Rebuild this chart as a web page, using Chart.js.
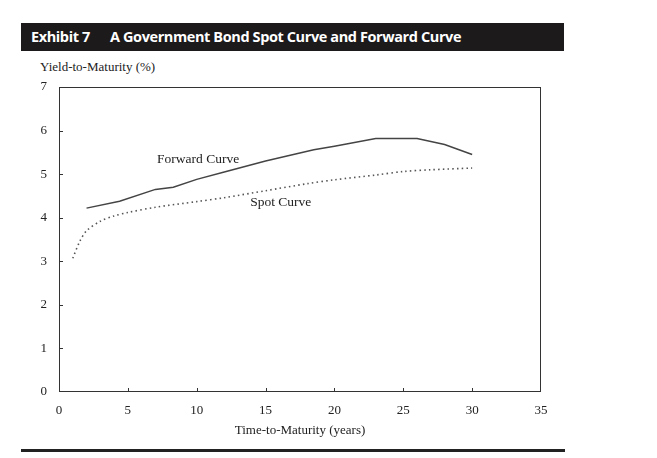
<!DOCTYPE html>
<html>
<head>
<meta charset="utf-8">
<script src="https://cdn.jsdelivr.net/npm/chart.js@4"></script>
<style>
  html, body { margin:0; padding:0; background:#fff; }
  #wrap { position:relative; width:657px; height:458px; overflow:hidden; }
  #bar { position:absolute; left:21px; top:23px; width:543px; height:28px; background:#1c1a1b; color:#fff;
         font-family:"Open Sans","Noto Sans",sans-serif; font-weight:700; font-size:14.5px; line-height:28px; letter-spacing:-0.4px; }
  #bar .ex { position:absolute; left:10px; }
  #bar .tt { position:absolute; left:89px; }
  #ylab { position:absolute; left:40px; top:59px; font-family:"Liberation Serif",serif; font-size:13px; color:#222; }
  #rule { position:absolute; left:21px; top:449px; width:544px; height:3px; background:#222; }
  canvas { position:absolute; left:0; top:0; }
</style>
</head>
<body>
<div id="wrap">
  <div id="bar"><span class="ex">Exhibit 7</span><span class="tt">A Government Bond Spot Curve and Forward Curve</span></div>
  <div id="ylab">Yield-to-Maturity (%)</div>
  <canvas id="c" width="657" height="458"></canvas>
  <div id="rule"></div>
</div>
<script>
const forwardX = [2, 4.4, 7, 8.3, 10, 12, 15, 18.5, 20, 23, 26, 28, 30];
const forwardY = [4.22, 4.38, 4.65, 4.70, 4.88, 5.05, 5.30, 5.56, 5.64, 5.82, 5.82, 5.68, 5.45];
const spotX = [1, 1.5, 2, 3, 4, 5, 7, 10, 12, 15, 18, 20, 23, 25, 27, 30];
const spotY = [3.07, 3.45, 3.70, 3.92, 4.04, 4.12, 4.24, 4.37, 4.46, 4.62, 4.78, 4.87, 4.98, 5.06, 5.10, 5.14];
const xTicks = [0, 5, 10, 15, 20, 25, 30, 35];
const yTicks = [0, 1, 2, 3, 4, 5, 6, 7];
const curveLabels = [
  {text: "Forward Curve", x: 10.1, y: 5.33},
  {text: "Spot Curve", x: 16.1, y: 4.35}
];

const toPts = (xs, ys) => xs.map((x, i) => ({x, y: ys[i]}));
const serif = '"Liberation Serif", "Times New Roman", serif';

const framePlugin = {
  id: 'frame',
  afterDatasetsDraw(chart) {
    const {ctx, chartArea: a, scales: {x, y}} = chart;
    ctx.save();
    ctx.strokeStyle = '#333';
    ctx.lineWidth = 1;
    ctx.strokeRect(a.left + 0.5, a.top + 0.5, a.right - a.left - 1, a.bottom - a.top - 1);
    ctx.beginPath();
    xTicks.slice(1, -1).forEach(v => { const px = Math.round(x.getPixelForValue(v)) + 0.5; ctx.moveTo(px, a.bottom); ctx.lineTo(px, a.bottom - 4); });
    yTicks.slice(1, -1).forEach(v => { const py = Math.round(y.getPixelForValue(v)) + 0.5; ctx.moveTo(a.left, py); ctx.lineTo(a.left + 4, py); });
    ctx.stroke();
    ctx.fillStyle = '#222';
    ctx.font = '13.5px ' + serif;
    ctx.textBaseline = 'middle';
    ctx.textAlign = 'center';
    curveLabels.forEach(l => ctx.fillText(l.text, x.getPixelForValue(l.x), y.getPixelForValue(l.y)));
    ctx.restore();
  }
};

new Chart(document.getElementById('c'), {
  type: 'line',
  data: {
    datasets: [
      { label: 'Forward Curve', data: toPts(forwardX, forwardY), borderColor: '#444', borderWidth: 1.5,
        pointRadius: 0, tension: 0, fill: false },
      { label: 'Spot Curve', data: toPts(spotX, spotY), borderColor: '#555', borderWidth: 1.6,
        borderDash: [1.5, 3.2], pointRadius: 0, tension: 0.3, fill: false }
    ]
  },
  options: {
    responsive: false,
    animation: false,
    devicePixelRatio: 1,
    layout: { padding: { top: 87, right: 116, left: 0, bottom: 20 } },
    plugins: { legend: { display: false }, tooltip: { enabled: false } },
    scales: {
      x: {
        type: 'linear', min: 0, max: 35,
        afterBuildTicks: s => { s.ticks = xTicks.map(v => ({value: v})); },
        afterFit: s => { s.height = 46; },
        grid: { display: false, drawTicks: false },
        border: { display: false },
        ticks: { padding: 11, color: '#222', font: { family: serif, size: 13 }, maxRotation: 0 },
        title: { display: true, text: 'Time-to-Maturity (years)', color: '#222', padding: 0,
                 font: { family: serif, size: 13 } }
      },
      y: {
        type: 'linear', min: 0, max: 7,
        afterBuildTicks: s => { s.ticks = yTicks.map(v => ({value: v})); },
        afterFit: s => { s.width = 59; },
        grid: { display: false, drawTicks: false },
        border: { display: false },
        ticks: { padding: 12, color: '#222', font: { family: serif, size: 13 } }
      }
    }
  },
  plugins: [framePlugin]
});
</script>
</body>
</html>
